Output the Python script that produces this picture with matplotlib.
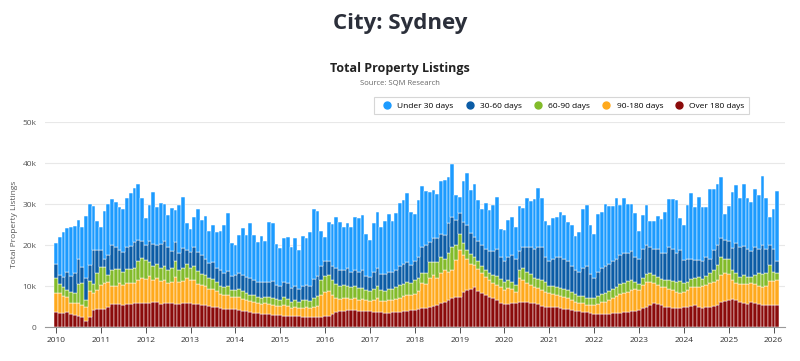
import matplotlib
matplotlib.use('Agg')
import matplotlib.pyplot as plt
from matplotlib.lines import Line2D
import numpy as np

plt.rcParams['font.family'] = ['Open Sans', 'DejaVu Sans']

# monthly listings (thousands), Jan 2010 .. Feb 2026
over_180 = [
    3.7, 3.5, 3.5, 3.7, 3.2, 2.9, 2.7, 2.4, 1.5, 2.5, 4.1, 4.3,  # 2010
    4.3, 4.5, 5.0, 5.6, 5.6, 5.6, 5.3, 5.6, 5.6, 5.9, 5.9, 5.8,  # 2011
    5.8, 5.9, 6.0, 6.0, 5.7, 5.8, 5.8, 5.9, 5.7, 5.6, 5.8, 5.9,  # 2012
    5.9, 5.7, 5.6, 5.4, 5.5, 5.1, 5.0, 4.9, 4.6, 4.5, 4.4, 4.3,  # 2013
    4.3, 4.2, 3.9, 3.8, 3.6, 3.5, 3.4, 3.3, 3.2, 3.1, 3.0, 2.9,  # 2014
    2.9, 2.8, 2.7, 2.7, 2.6, 2.6, 2.5, 2.5, 2.4, 2.4, 2.4, 2.4,  # 2015
    2.6, 2.8, 3.2, 3.6, 3.8, 4.0, 4.1, 4.2, 4.1, 4.0, 3.9, 3.8,  # 2016
    3.8, 3.7, 3.6, 3.6, 3.5, 3.5, 3.6, 3.6, 3.7, 3.8, 4.0, 4.2,  # 2017
    4.2, 4.3, 4.6, 4.7, 4.9, 5.2, 5.5, 5.9, 6.2, 6.6, 7.0, 7.3,  # 2018
    7.4, 8.6, 9.0, 9.4, 9.8, 8.8, 8.2, 7.8, 7.4, 7.0, 6.6, 5.8,  # 2019
    5.6, 5.6, 5.9, 5.9, 6.0, 6.2, 6.0, 5.9, 5.8, 5.6, 5.2, 5.0,  # 2020
    5.0, 4.9, 4.8, 4.6, 4.4, 4.3, 4.1, 3.9, 3.8, 3.7, 3.6, 3.5,  # 2021
    3.3, 3.3, 3.3, 3.2, 3.3, 3.4, 3.4, 3.5, 3.6, 3.7, 3.8, 3.9,  # 2022
    4.2, 4.6, 5.0, 5.4, 5.8, 5.6, 5.4, 5.0, 4.8, 4.7, 4.7, 4.6,  # 2023
    5.0, 5.0, 5.2, 5.4, 5.0, 4.7, 5.0, 5.0, 5.2, 5.4, 6.2, 6.4,  # 2024
    6.6, 6.8, 6.5, 6.2, 5.8, 5.6, 6.0, 5.8, 5.6, 5.5, 5.4, 5.4,  # 2025
    5.4, 5.4,                                                    # 2026
]
d90_180 = [
    4.7, 4.7, 4.1, 3.7, 2.7, 2.9, 3.1, 3.0, 3.4, 6.4, 4.1, 4.7,
    5.9, 6.2, 6.1, 4.4, 4.4, 5.1, 4.9, 5.1, 5.1, 4.9, 5.6, 6.1,
    6.0, 6.5, 5.5, 6.0, 5.5, 5.7, 5.0, 5.2, 6.5, 5.3, 5.5, 6.0,
    5.5, 5.8, 5.0, 4.8, 4.5, 4.3, 4.2, 3.8, 3.5, 3.2, 3.3, 3.0,
    3.0, 3.2, 3.0, 2.8, 2.7, 2.6, 2.5, 2.4, 2.6, 2.5, 2.4, 2.3,
    2.2, 2.5, 2.4, 2.0, 2.2, 2.0, 2.2, 2.3, 2.2, 2.5, 2.8, 5.5,
    5.9, 6.0, 4.6, 3.4, 3.0, 3.0, 2.9, 2.6, 2.9, 2.5, 2.9, 2.7,
    2.6, 3.0, 3.5, 2.8, 2.8, 3.0, 3.1, 3.3, 3.5, 3.8, 3.8, 3.5,
    3.8, 4.5, 6.1, 5.8, 7.0, 7.5, 6.5, 7.2, 7.7, 6.9, 6.9, 9.0,
    11.4, 9.0, 7.7, 6.1, 5.3, 5.3, 4.9, 4.5, 4.1, 3.7, 3.7, 4.0,
    3.4, 3.9, 3.5, 2.7, 5.9, 5.3, 4.7, 4.3, 4.0, 3.9, 3.8, 3.6,
    3.2, 3.1, 3.0, 3.0, 3.0, 2.7, 2.5, 2.3, 2.0, 2.1, 1.8, 1.8,
    2.0, 2.3, 2.7, 3.0, 3.2, 3.6, 4.1, 4.5, 4.6, 4.9, 5.2, 5.3,
    4.8, 5.6, 6.1, 5.7, 4.9, 4.6, 4.4, 4.8, 4.6, 4.3, 3.9, 3.6,
    3.6, 4.0, 4.6, 4.4, 4.8, 5.3, 5.2, 5.7, 5.9, 6.1, 6.5, 6.7,
    6.3, 4.7, 4.2, 4.3, 4.6, 4.8, 4.7, 4.6, 4.4, 4.3, 4.6, 5.8,
    5.8, 6.1,
]
d60_90 = [
    3.5, 2.3, 2.2, 1.6, 2.7, 2.4, 4.8, 5.4, 1.8, 2.4, 2.3, 4.1,
    4.5, 3.9, 1.5, 3.9, 4.1, 3.4, 3.3, 3.4, 3.4, 3.5, 4.7, 4.9,
    4.5, 3.5, 3.5, 3.5, 3.2, 3.5, 3.2, 3.4, 4.0, 3.0, 3.2, 3.5,
    3.0, 3.5, 3.0, 2.8, 2.7, 2.5, 2.4, 2.3, 2.0, 2.0, 2.2, 1.8,
    1.8, 2.0, 1.8, 1.7, 1.6, 1.6, 1.5, 1.5, 1.6, 1.7, 1.8, 1.6,
    1.6, 2.0, 1.8, 1.5, 1.7, 1.5, 1.8, 1.9, 1.8, 2.3, 2.4, 3.5,
    4.0, 3.9, 3.7, 3.5, 3.2, 3.2, 3.0, 3.0, 3.0, 3.0, 2.7, 2.5,
    2.4, 2.7, 3.0, 2.7, 2.6, 2.8, 2.7, 2.8, 3.0, 3.0, 3.1, 3.0,
    3.5, 3.2, 2.4, 2.6, 4.0, 3.2, 3.9, 4.1, 2.6, 4.5, 5.7, 3.7,
    4.0, 2.8, 2.2, 2.3, 2.0, 2.0, 1.8, 1.6, 1.8, 2.0, 2.2, 1.9,
    2.0, 2.0, 1.6, 1.6, 2.1, 3.0, 2.8, 2.8, 2.2, 2.3, 2.5, 2.4,
    1.8, 2.0, 2.0, 1.9, 2.0, 2.0, 1.9, 1.8, 1.7, 1.8, 1.8, 1.7,
    1.7, 1.9, 2.0, 2.1, 2.3, 2.3, 2.3, 2.5, 2.6, 2.6, 2.5, 1.8,
    1.5, 1.8, 1.9, 2.2, 2.1, 2.1, 2.0, 1.7, 2.1, 2.2, 2.5, 3.1,
    2.1, 2.1, 1.9, 2.2, 2.3, 1.7, 2.2, 2.4, 2.8, 3.6, 4.5, 3.6,
    3.8, 2.4, 2.6, 1.8, 2.3, 1.9, 1.5, 2.3, 3.1, 3.1, 3.3, 3.9,
    2.3, 1.6,
]
d30_60 = [
    3.5, 2.2, 2.5, 4.5, 3.9, 5.1, 6.0, 3.8, 5.3, 3.8, 8.3, 5.8,
    4.2, 2.1, 5.0, 6.1, 5.5, 4.8, 4.9, 5.5, 5.7, 6.5, 5.0, 4.2,
    3.8, 5.0, 5.2, 4.5, 5.8, 6.0, 5.5, 4.0, 4.5, 4.2, 4.8, 3.5,
    4.0, 4.5, 4.8, 4.5, 4.0, 3.8, 4.2, 3.5, 3.8, 3.5, 3.8, 3.3,
    3.5, 3.8, 4.0, 3.8, 4.0, 3.7, 3.6, 3.7, 3.5, 3.8, 4.0, 3.4,
    3.3, 3.6, 3.8, 3.3, 3.5, 3.2, 3.5, 3.5, 3.6, 4.5, 4.8, 3.5,
    3.5, 3.5, 3.5, 4.0, 4.0, 3.8, 4.5, 3.7, 4.0, 4.0, 4.5, 3.5,
    3.5, 4.0, 4.2, 3.8, 4.0, 4.2, 4.0, 4.3, 4.6, 4.8, 5.0, 4.5,
    4.5, 5.0, 6.4, 6.9, 4.9, 5.7, 5.7, 5.6, 6.0, 7.3, 7.3, 6.1,
    4.9, 5.1, 6.1, 5.2, 4.9, 4.9, 5.1, 5.1, 5.2, 5.8, 6.5, 5.3,
    5.0, 5.5, 6.5, 6.3, 4.5, 5.0, 6.0, 6.5, 7.0, 7.7, 8.0, 6.0,
    6.0, 6.5, 7.2, 7.5, 7.1, 7.0, 6.5, 6.0, 6.0, 6.9, 7.8, 6.0,
    5.0, 6.0, 6.5, 6.7, 6.7, 6.7, 6.7, 7.0, 7.2, 6.8, 7.0, 6.0,
    6.0, 7.0, 7.0, 6.2, 6.2, 6.7, 6.2, 6.5, 8.0, 7.8, 6.9, 7.5,
    5.6, 5.6, 4.8, 4.3, 4.2, 4.3, 4.6, 3.5, 4.8, 4.9, 4.6, 4.5,
    4.3, 5.3, 7.1, 7.3, 7.1, 6.7, 6.3, 6.8, 5.9, 7.1, 5.7, 4.9,
    5.5, 2.9,
]
under_30 = [
    5.0, 9.3, 10.9, 10.6, 12.0, 11.3, 9.5, 9.7, 15.1, 14.9, 10.7, 7.0,
    5.4, 11.7, 12.4, 11.2, 10.8, 10.4, 10.3, 11.9, 13.0, 13.2, 13.6, 10.5,
    6.4, 8.9, 12.7, 9.3, 10.0, 8.9, 7.8, 10.6, 7.8, 11.7, 12.5, 6.4,
    5.5, 7.4, 10.5, 8.6, 10.5, 7.7, 9.1, 8.6, 9.5, 11.7, 14.0, 8.0,
    7.4, 9.2, 11.5, 10.3, 13.4, 11.0, 9.7, 11.3, 10.0, 14.6, 14.1, 10.0,
    9.4, 10.7, 11.3, 10.1, 11.8, 9.5, 12.3, 11.4, 13.3, 17.1, 15.9, 8.5,
    6.0, 9.3, 10.1, 12.4, 11.5, 10.5, 10.8, 11.0, 12.9, 13.0, 13.3, 10.3,
    8.9, 11.9, 13.7, 11.6, 13.0, 14.0, 12.5, 13.7, 15.4, 15.7, 16.9, 12.8,
    11.5, 14.0, 15.0, 13.2, 12.2, 11.9, 10.9, 12.9, 13.4, 11.4, 12.8, 6.1,
    3.9, 10.1, 12.6, 10.4, 12.9, 10.0, 8.8, 11.2, 10.0, 11.3, 12.8, 7.0,
    7.7, 9.1, 9.4, 8.0, 11.0, 9.5, 12.0, 11.2, 12.2, 14.3, 12.0, 8.9,
    9.0, 10.2, 9.9, 11.1, 10.8, 9.7, 10.0, 8.3, 9.6, 14.4, 14.8, 12.0,
    10.8, 14.0, 13.6, 14.9, 14.1, 13.6, 14.9, 12.3, 13.4, 11.9, 11.4, 10.7,
    6.9, 8.3, 9.8, 6.4, 6.9, 8.2, 8.3, 10.0, 11.7, 12.2, 13.1, 7.7,
    8.6, 13.1, 16.1, 12.9, 15.5, 13.3, 12.3, 17.1, 15.0, 15.0, 14.9, 6.3,
    8.6, 13.8, 14.2, 11.8, 15.1, 12.4, 12.1, 14.2, 13.2, 16.9, 12.4, 6.9,
    9.7, 17.2,
]

series = [
    ('Over 180 days', over_180, '#8b0a0a'),
    ('90-180 days', d90_180, '#ffa91c'),
    ('60-90 days', d60_90, '#82bb2a'),
    ('30-60 days', d30_60, '#0b5ca6'),
    ('Under 30 days', under_30, '#1c9bff'),
]
years = list(range(2010, 2027))

fig = plt.figure(figsize=(8, 3.61), dpi=100)
ax = fig.add_axes([0.056, 0.094, 0.925, 0.568])

x = np.arange(len(over_180))
bottom = np.zeros(len(x))
for name, vals, col in series:
    v = np.array(vals) * 1000
    ax.bar(x, v, bottom=bottom, width=1.0, color=col, edgecolor='white', linewidth=0.35)
    bottom += v

ax.set_xlim(-3, 195)
ax.set_ylim(0, 50000)
ax.set_yticks(np.arange(0, 50001, 10000))
ax.set_yticklabels(['0', '10k', '20k', '30k', '40k', '50k'])
ax.set_xticks([(y - 2010) * 12 for y in years])
ax.set_xticklabels([str(y) for y in years])
ax.tick_params(axis='y', length=0, labelsize=6, colors='#555555', pad=6)
ax.tick_params(axis='x', length=4, labelsize=6, colors='#333333', width=0.6)
for t in ax.get_xticklines():
    t.set_color('#999999')
ax.grid(axis='y', color='#e8e8e8', linewidth=0.8)
ax.set_axisbelow(True)
for s in ['top', 'right', 'left']:
    ax.spines[s].set_visible(False)
ax.spines['bottom'].set_color('#999999')
ax.spines['bottom'].set_linewidth(0.8)
ax.set_ylabel('Total Property Listings', fontsize=6, color='#555555', labelpad=3)

fig.text(0.5, 0.935, 'City: Sydney', ha='center', va='center', fontsize=16,
         fontweight='bold', color='#2b2f3a')
fig.text(0.5, 0.81, 'Total Property Listings', ha='center', va='center', fontsize=9,
         fontweight='bold', color='#222222')
fig.text(0.5, 0.768, 'Source: SQM Research', ha='center', va='center', fontsize=5.5,
         color='#666666')

handles = [Line2D([], [], marker='o', linestyle='', markersize=5, color=col)
           for name, vals, col in series[::-1]]
labels = [name for name, vals, col in series[::-1]]
leg = fig.legend(handles, labels, loc='upper right', bbox_to_anchor=(0.942, 0.742),
                 ncol=5, fontsize=6, frameon=True, fancybox=False, handletextpad=0.25,
                 columnspacing=0.9, borderpad=0.55)
leg.get_frame().set_edgecolor('#cccccc')
leg.get_frame().set_linewidth(0.8)

fig.savefig('out.png', dpi=100)
